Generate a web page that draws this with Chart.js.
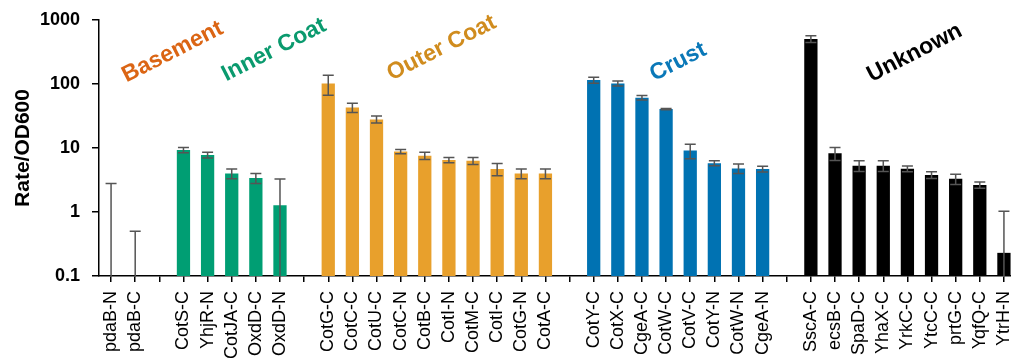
<!DOCTYPE html>
<html>
<head>
<meta charset="utf-8">
<script src="https://cdn.jsdelivr.net/npm/chart.js@4.4.1/dist/chart.umd.min.js"></script>
<style>
    html, body { margin: 0; padding: 0; background: #ffffff; overflow: hidden; }
    #wrap { position: relative; width: 1016px; height: 362px; }
</style>
</head>
<body>
<div id="wrap"><canvas id="chart-rate"></canvas></div>
<script>
// Groups of spore coat proteins, values are Rate/OD600 (mean) and error (SD)
const groupNames = ['Basement', 'Inner Coat', 'Outer Coat', 'Crust', 'Unknown'];

const basementLabels = ['pdaB-N', 'pdaB-C'];
const basementValues = [0.05, 0.05];
const basementErrors = [2.75, 0.45];

const innerLabels = ['CotS-C', 'YhjR-N', 'CotJA-C', 'OxdD-C', 'OxdD-N'];
const innerValues = [9.3, 7.8, 4.0, 3.4, 1.27];
const innerErrors = [0.9, 0.8, 0.7, 0.6, 2.0];

const outerLabels = ['CotG-C', 'CotC-C', 'CotU-C', 'CotC-N', 'CotB-C', 'CotI-N', 'CotM-C', 'CotI-C', 'CotG-N', 'CotA-C'];
const outerValues = [102, 43, 28, 8.8, 7.6, 6.5, 6.3, 4.7, 4.0, 4.0];
const outerErrors = [35, 7, 3.5, 0.7, 1.0, 0.6, 0.8, 1.0, 0.7, 0.7];

const crustLabels = ['CotY-C', 'CotX-C', 'CgeA-C', 'CotW-C', 'CotV-C', 'CotY-N', 'CotW-N', 'CgeA-N'];
const crustValues = [115, 102, 61, 40.6, 9.1, 5.8, 4.8, 4.7];
const crustErrors = [12, 9, 5, 1, 2.3, 0.5, 0.8, 0.5];

const unknownLabels = ['SscA-C', 'ecsB-C', 'SpaD-C', 'YhaX-C', 'YrkC-C', 'YtcC-C', 'prtG-C', 'YqfQ-C', 'YtrH-N'];
const unknownValues = [505, 8.3, 5.3, 5.3, 4.75, 3.8, 3.3, 2.65, 0.23];
const unknownErrors = [60, 1.9, 1.0, 1.0, 0.5, 0.45, 0.6, 0.3, 0.8];

const yTicks = [0.1, 1, 10, 100, 1000];

const barColors = ['#D55E00', '#009E73', '#E8A02C', '#0072B2', '#000000'];
const textColors = ['#DB6514', '#0A9A6E', '#D08C1E', '#0A78B8', '#000000'];

// build flat arrays with an empty slot between groups
const groups = [
    [basementLabels, basementValues, basementErrors],
    [innerLabels, innerValues, innerErrors],
    [outerLabels, outerValues, outerErrors],
    [crustLabels, crustValues, crustErrors],
    [unknownLabels, unknownValues, unknownErrors]
];
const labels = [], values = [], errors = [], colors = [];
groups.forEach((g, gi) => {
    if (gi > 0) {
        labels.push('');
        values.push(null);
        errors.push(null);
        colors.push('transparent');
    }
    g[0].forEach((l, i) => {
        labels.push(l);
        values.push(g[1][i]);
        errors.push(g[2][i]);
        colors.push(barColors[gi]);
    });
});

// where the group titles sit (category position, pixel y of centre)
const groupTitlePos = [
    { cat: 2.55, y: 52 },
    { cat: 6.75, y: 50 },
    { cat: 13.7, y: 48 },
    { cat: 23.5, y: 62 },
    { cat: 33.3, y: 53 }
];

const errorBars = {
    id: 'errorBars',
    afterDatasetsDraw(chart) {
        const ctx = chart.ctx;
        const area = chart.chartArea;
        const yScale = chart.scales.y;
        const meta = chart.getDatasetMeta(0);
        ctx.save();
        ctx.beginPath();
        ctx.rect(area.left, area.top, area.right - area.left, area.bottom - area.top + 1);
        ctx.clip();
        ctx.strokeStyle = '#555555';
        ctx.lineWidth = 1.5;
        const cap = 5.5;
        values.forEach((v, i) => {
            if (v === null) return;
            const e = errors[i];
            const x = meta.data[i].x;
            const yTop = yScale.getPixelForValue(v + e);
            const low = v - e;
            const yBot = low > 0 ? yScale.getPixelForValue(low) : area.bottom + 2;
            ctx.beginPath();
            ctx.moveTo(x, yBot);
            ctx.lineTo(x, yTop);
            ctx.moveTo(x - cap, yTop);
            ctx.lineTo(x + cap, yTop);
            if (low > 0) {
                ctx.moveTo(x - cap, yBot);
                ctx.lineTo(x + cap, yBot);
            }
            ctx.stroke();
        });
        ctx.restore();
    }
};

const groupTitles = {
    id: 'groupTitles',
    afterDraw(chart) {
        const ctx = chart.ctx;
        const xScale = chart.scales.x;
        const step = xScale.getPixelForValue(1) - xScale.getPixelForValue(0);
        ctx.save();
        ctx.font = 'bold 23px Arial, "Liberation Sans", sans-serif';
        ctx.textAlign = 'center';
        ctx.textBaseline = 'middle';
        groupNames.forEach((name, i) => {
            const p = groupTitlePos[i];
            const x = xScale.getPixelForValue(0) + p.cat * step;
            ctx.save();
            ctx.translate(x, p.y);
            ctx.rotate(-27 * Math.PI / 180);
            ctx.fillStyle = textColors[i];
            ctx.fillText(name, 0, 0);
            ctx.restore();
        });
        ctx.restore();
    }
};

const ctx = document.getElementById('chart-rate');
new Chart(ctx, {
    type: 'bar',
    data: {
        labels: labels,
        datasets: [{
            data: values,
            backgroundColor: colors,
            borderWidth: 0,
            barPercentage: 0.55,
            categoryPercentage: 1.0
        }]
    },
    options: {
        responsive: true,
        maintainAspectRatio: false,
        animation: false,
        layout: {
            padding: { top: 20, left: 0, right: 0, bottom: 0 }
        },
        plugins: {
            legend: { display: false },
            tooltip: { enabled: false }
        },
        scales: {
            x: {
                grid: {
                    display: true,
                    drawOnChartArea: false,
                    drawTicks: true,
                    tickLength: 6,
                    offset: false,
                    color: '#000000',
                    lineWidth: 1.5
                },
                border: { display: true, color: '#000000', width: 1.5 },
                ticks: {
                    autoSkip: false,
                    maxRotation: 90,
                    minRotation: 90,
                    padding: 9,
                    color: '#000000',
                    font: { family: 'Arial, "Liberation Sans", sans-serif', size: 18 }
                },
                afterFit(scale) {
                    scale.height = 86;
                    scale.paddingLeft = 0;
                    scale.paddingRight = 0;
                }
            },
            y: {
                type: 'logarithmic',
                min: 0.1,
                max: 1000,
                grid: {
                    display: true,
                    drawOnChartArea: false,
                    drawTicks: true,
                    tickLength: 7,
                    color: '#000000',
                    lineWidth: 1.5
                },
                border: { display: true, color: '#000000', width: 1.5 },
                afterBuildTicks(scale) {
                    scale.ticks = yTicks.map(v => ({ value: v }));
                },
                ticks: {
                    padding: 12,
                    color: '#000000',
                    font: { family: 'Arial, "Liberation Sans", sans-serif', size: 18, weight: 'bold' },
                    callback: v => (v < 1 ? v.toString() : String(Math.round(v)))
                },
                title: {
                    display: true,
                    text: 'Rate/OD600',
                    color: '#000000',
                    padding: { top: 11, bottom: 0 },
                    font: { family: 'Arial, "Liberation Sans", sans-serif', size: 21, weight: 'bold' }
                },
                afterFit(scale) {
                    scale.width = 99;
                    scale.paddingTop = 0;
                    scale.paddingBottom = 0;
                }
            }
        }
    },
    plugins: [errorBars, groupTitles]
});
</script>
</body>
</html>
